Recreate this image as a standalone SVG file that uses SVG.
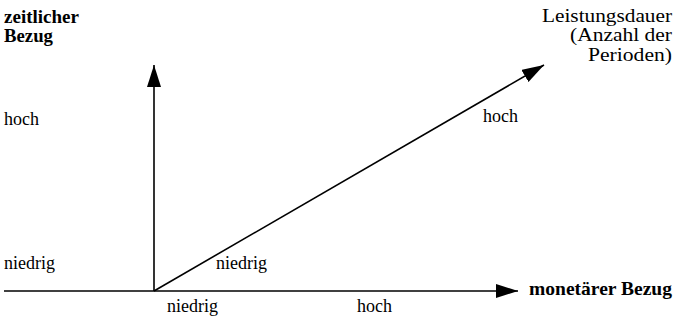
<svg xmlns="http://www.w3.org/2000/svg" width="674" height="320" viewBox="0 0 674 320">
<style>
text{font-family:"Liberation Serif","Times New Roman",serif;fill:#000;font-size:18px}
.b{font-weight:bold;font-size:19px}
.r{text-anchor:end;font-size:19px}
.ax{stroke:#000;stroke-width:1.6;fill:none}
</style>
<defs>
<marker id="ah" markerUnits="userSpaceOnUse" markerWidth="24" markerHeight="16" refX="22" refY="7" orient="auto">
<path d="M0,0 L22,7 L0,14 Z" fill="#000"/>
</marker>
</defs>
<g id="connectors">
<line class="ax" x1="4" y1="291" x2="518" y2="291" marker-end="url(#ah)"/>
<line class="ax" x1="154" y1="291" x2="154" y2="65" marker-end="url(#ah)"/>
<line class="ax" x1="154" y1="291" x2="544" y2="65" marker-end="url(#ah)"/>
</g>
<g id="y-axis-label"><text class="b" x="4" y="23" textLength="75" lengthAdjust="spacingAndGlyphs">zeitlicher</text><text class="b" x="4" y="42" textLength="49" lengthAdjust="spacingAndGlyphs">Bezug</text></g>
<g id="y-hoch"><text x="4" y="125">hoch</text></g>
<g id="y-niedrig"><text x="4" y="269">niedrig</text></g>
<g id="d-niedrig"><text x="216" y="269">niedrig</text></g>
<g id="d-hoch"><text x="483" y="122">hoch</text></g>
<g id="x-niedrig"><text x="167" y="312">niedrig</text></g>
<g id="x-hoch"><text x="357" y="312">hoch</text></g>
<g id="x-axis-label"><text class="b" x="529" y="295" textLength="143" lengthAdjust="spacingAndGlyphs">monetärer Bezug</text></g>
<g id="d-axis-label"><text x="542" y="22" textLength="130" lengthAdjust="spacingAndGlyphs">Leistungsdauer</text><text x="570" y="41" textLength="102" lengthAdjust="spacingAndGlyphs">(Anzahl der</text><text x="588" y="61" textLength="84" lengthAdjust="spacingAndGlyphs">Perioden)</text></g>
</svg>
